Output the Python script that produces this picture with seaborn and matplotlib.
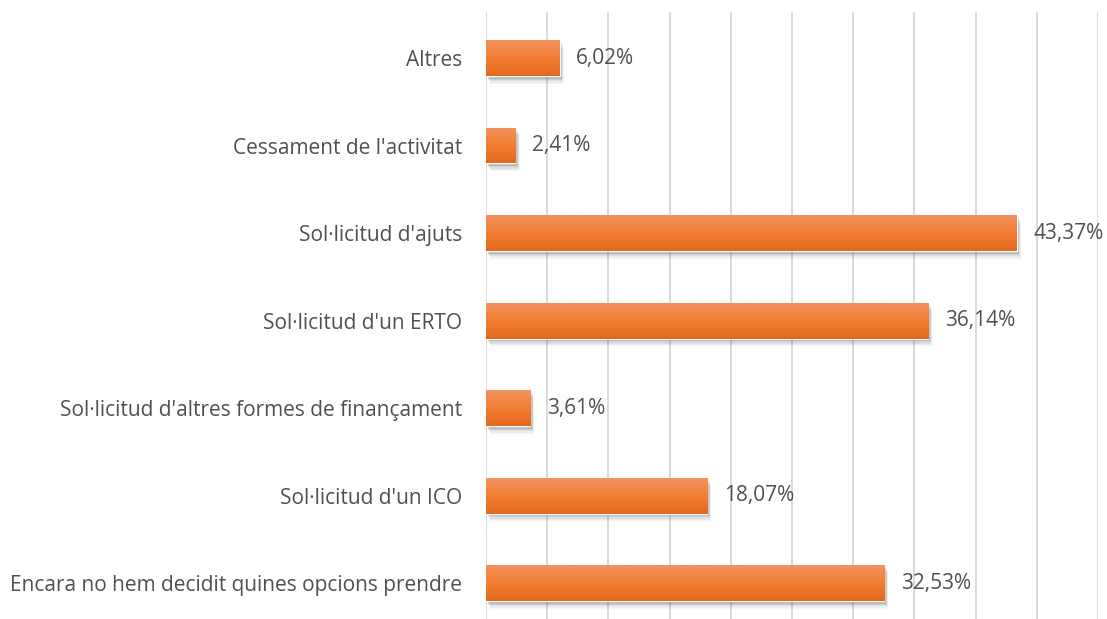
import numpy as np
import pandas as pd
import matplotlib
matplotlib.use("Agg")
import matplotlib.pyplot as plt
import seaborn as sns
from matplotlib.patches import Rectangle

# ============ Data ============
categories = [
    "Altres",
    "Cessament de l'activitat",
    "Sol·licitud d'ajuts",
    "Sol·licitud d'un ERTO",
    "Sol·licitud d'altres formes de finançament",
    "Sol·licitud d'un ICO",
    "Encara no hem decidit quines opcions prendre",
]
values = [6.02, 2.41, 43.37, 36.14, 3.61, 18.07, 32.53]
value_labels = ["6,02%", "2,41%", "43,37%", "36,14%", "3,61%", "18,07%", "32,53%"]

# ============ Style ============
sns.set_theme(style="white")
plt.rcParams["font.family"] = ["Open Sans", "DejaVu Sans"]

TEXT = "#505050"
GRID = "#D9D9D9"
TOP_C = np.array([0xF2, 0x93, 0x5F]) / 255
MID_C = np.array([0xF2, 0x7E, 0x33]) / 255
BOT_C = np.array([0xE3, 0x68, 0x1C]) / 255
FS = 15.0

df = pd.DataFrame({"cat": categories, "val": values})

fig = plt.figure(figsize=(11.07, 6.19), dpi=100)
ax = fig.add_axes([486 / 1107, 0, (1098 - 486) / 1107, 1 - 12 / 619])

sns.barplot(data=df, y="cat", x="val", orient="h", color="#F07D30",
            width=0.41, ax=ax, saturation=1)

ax.set_xticks(np.arange(0, 51, 5))
ax.xaxis.grid(True, color=GRID, linewidth=1.4)
ax.set_axisbelow(True)
ax.set_xticklabels([])
ax.set_xlabel("")
ax.set_ylabel("")
for s in ax.spines.values():
    s.set_visible(False)
ax.tick_params(axis="y", length=0, pad=17, labelsize=FS, labelcolor=TEXT)
ax.tick_params(axis="x", length=0)

# gradient + soft shadow on each bar
cols = np.zeros((64, 1, 3))
for i, t in enumerate(np.linspace(0, 1, 64)):
    if t < 0.5:
        c = TOP_C + (MID_C - TOP_C) * (t / 0.5)
    else:
        c = MID_C + (BOT_C - MID_C) * ((t - 0.5) / 0.5)
    cols[i, 0] = c

for bar in list(ax.patches):
    x0, y0 = bar.get_x(), bar.get_y()
    w, h = bar.get_width(), bar.get_height()
    for k, a in enumerate([0.10, 0.08, 0.06, 0.04, 0.03]):
        off = 0.03 + 0.015 * k
        sh = Rectangle((x0 + 0.15 + 0.05 * k, y0 + off), w, h,
                       facecolor="black", alpha=a, linewidth=0, zorder=1.5)
        ax.add_patch(sh)
    bar.set_zorder(2)
    im = ax.imshow(cols, extent=(x0, x0 + w, y0 + h, y0), aspect="auto",
                   zorder=2.5, interpolation="bilinear")
    im.set_clip_path(bar)

ax.set_xlim(0, 50)
ax.set_ylim(6.41, -0.526)

for i, (v, lab) in enumerate(zip(values, value_labels)):
    ax.annotate(lab, xy=(v, i), xytext=(12, 0), textcoords="offset points",
                va="center", ha="left", fontsize=FS, color=TEXT,
                annotation_clip=False)

fig.savefig("out.png", dpi=100)
